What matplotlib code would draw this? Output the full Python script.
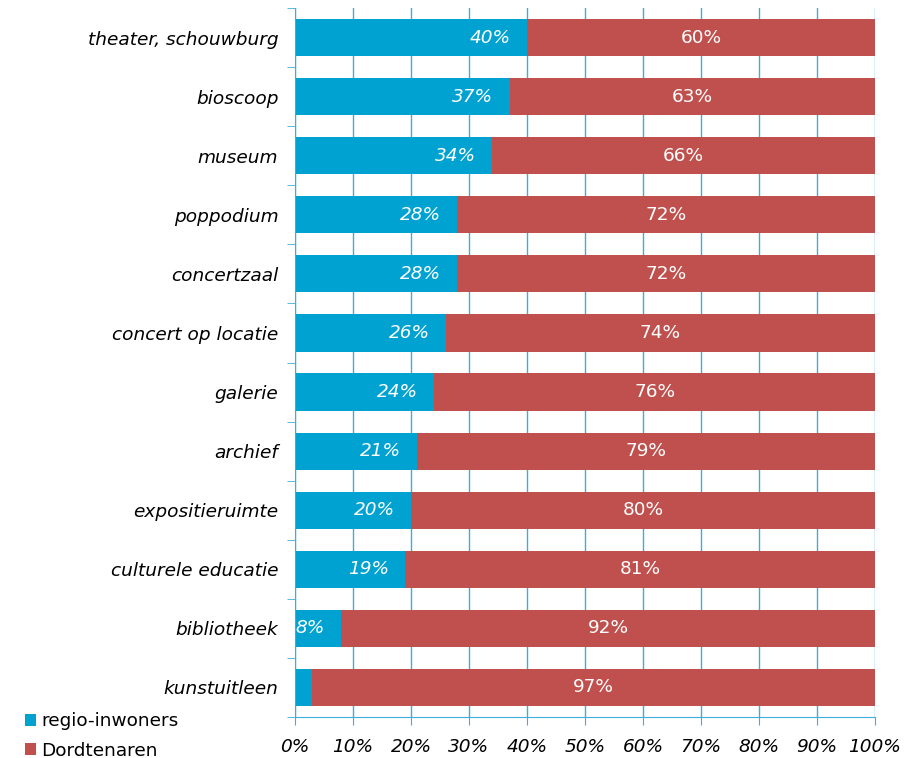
import matplotlib.pyplot as plt
import numpy as np

# categorieën (van boven naar beneden)
categorieen = ["theater, schouwburg", "bioscoop", "museum", "poppodium", "concertzaal",
               "concert op locatie", "galerie", "archief", "expositieruimte",
               "culturele educatie", "bibliotheek", "kunstuitleen"]
regio = [40, 37, 34, 28, 28, 26, 24, 21, 20, 19, 8, 3]
dordt = [60, 63, 66, 72, 72, 74, 76, 79, 80, 81, 92, 97]
xticks_labels = ["0%", "10%", "20%", "30%", "40%", "50%", "60%", "70%", "80%", "90%", "100%"]

blauw = "#00A2D1"
rood = "#C0504D"
lijn = "#3AAEDC"

plt.rcParams['font.family'] = ['DejaVu Sans']
fs = 13.3

fig = plt.figure(figsize=(9.06, 7.58), dpi=100)
ax = fig.add_axes([295 / 906, 41 / 758, 580 / 906, 709 / 758])

y = np.arange(len(categorieen))
h = 0.63
b1 = ax.barh(y, regio, height=h, color=blauw, label="regio-inwoners", zorder=2)
b2 = ax.barh(y, dordt, left=regio, height=h, color=rood, label="Dordtenaren", zorder=2)

ax.set_xlim(0, 100)
ax.set_ylim(len(categorieen) - 0.5, -0.5)

# labels in de balken
for i in range(len(categorieen)):
    ax.text(regio[i] - 2.8, y[i], f"{regio[i]}%", color="white", fontsize=fs,
            style="italic", ha="right", va="center", clip_on=True, zorder=3)
    ax.text(regio[i] + dordt[i] / 2, y[i], f"{dordt[i]}%", color="white", fontsize=fs,
            ha="center", va="center", zorder=3)

ax.set_yticks(y)
ax.set_yticklabels(categorieen, style="italic", fontsize=fs)
ax.set_yticks(np.arange(-0.5, len(categorieen), 1), minor=True)
ax.tick_params(axis="y", which="major", length=0, pad=12)
ax.tick_params(axis="y", which="minor", length=6, color=lijn, direction="out")

ax.set_xticks(np.arange(0, 101, 10))
ax.set_xticklabels(xticks_labels, style="italic", fontsize=fs)
ax.tick_params(axis="x", length=6, color=lijn, direction="out", pad=9)

ax.grid(axis="x", color=lijn, linewidth=1, zorder=0)
for s in ["top", "right"]:
    ax.spines[s].set_visible(False)
ax.spines["left"].set_color(lijn)
ax.spines["bottom"].set_color(lijn)

fig.legend(handles=[b1, b2], labels=["regio-inwoners", "Dordtenaren"],
           loc="lower left", bbox_to_anchor=(8 / 906, -0.024), frameon=False,
           fontsize=fs, handlelength=0.6, handleheight=0.6, handletextpad=0.3,
           labelspacing=0.6)

plt.savefig("out.png", dpi=100)
